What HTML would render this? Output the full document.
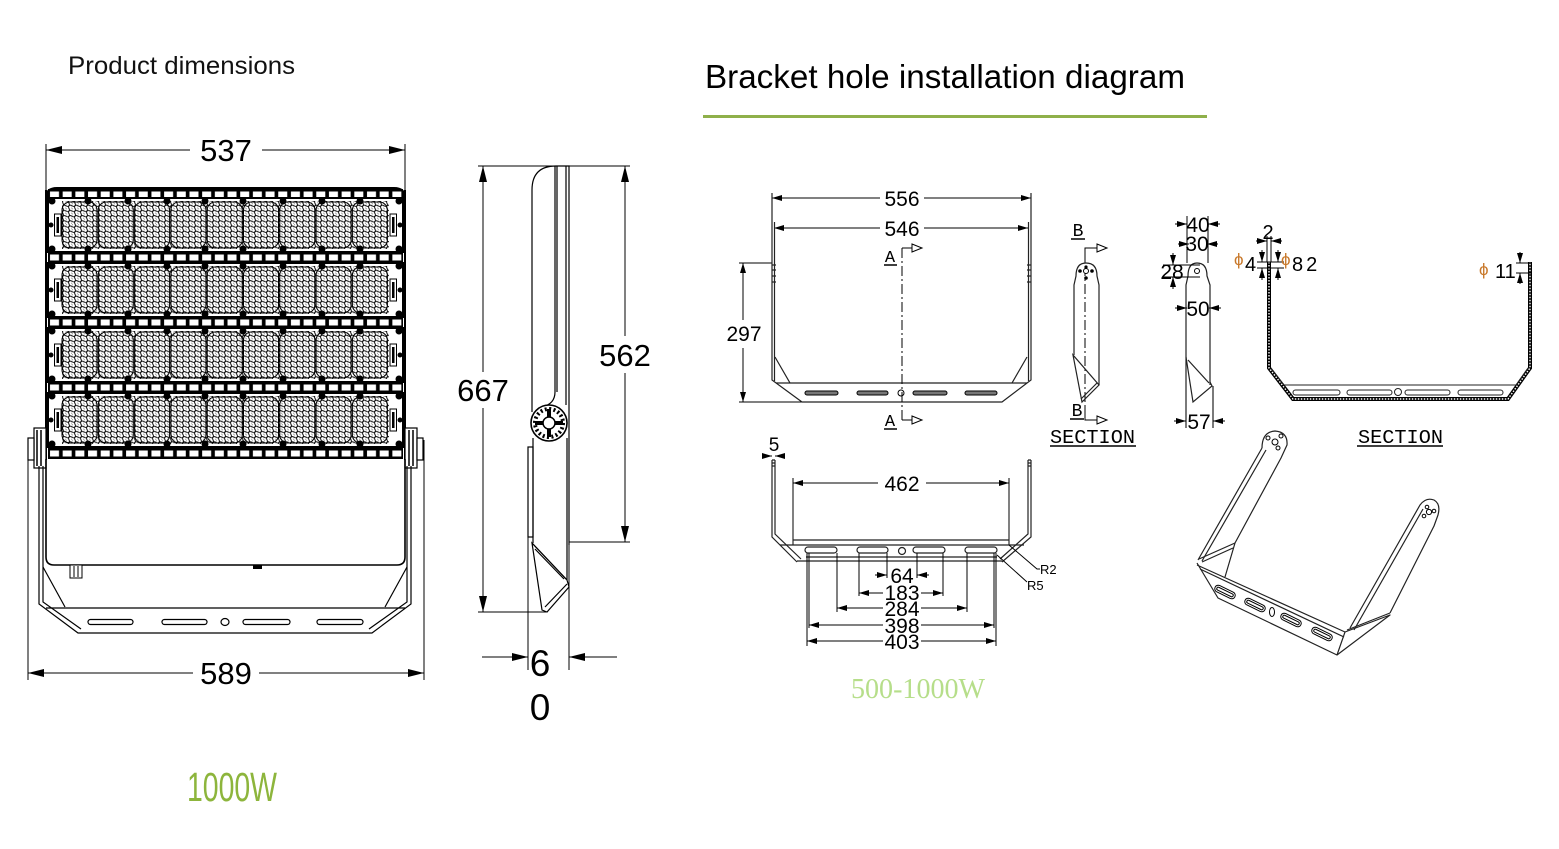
<!DOCTYPE html>
<html><head><meta charset="utf-8"><style>
html,body{margin:0;padding:0;background:#fff;}
svg{display:block;}
</style></head><body>
<svg width="1559" height="849" viewBox="0 0 1559 849" xmlns="http://www.w3.org/2000/svg" font-family="'Liberation Sans', Arial, sans-serif">
<defs>
<marker id="A" viewBox="0 0 16 8" refX="16" refY="4" markerWidth="16" markerHeight="8" markerUnits="userSpaceOnUse" orient="auto"><path d="M0,0L16,4L0,8z" fill="#000"/></marker>
<marker id="s" viewBox="0 0 10 6" refX="10" refY="3" markerWidth="10" markerHeight="6" markerUnits="userSpaceOnUse" orient="auto"><path d="M0,0L10,3L0,6z" fill="#000"/></marker>
<pattern id="hex" width="6" height="5.2" patternUnits="userSpaceOnUse"><rect width="6" height="5.2" fill="#fff"/><circle cx="1.5" cy="1.3" r="1.9" fill="none" stroke="#000" stroke-width=".9"/><circle cx="4.5" cy="3.9" r="1.9" fill="none" stroke="#000" stroke-width=".9"/></pattern>
<pattern id="grid" width="12.68" height="11" patternUnits="userSpaceOnUse"><rect width="12.68" height="11" fill="#000"/><rect x="2" y="2.5" width="9" height="6" fill="#fff"/></pattern>
<g id="mod">
<rect x="0" y="0" width="355" height="54" fill="#fff" stroke="#000" stroke-width="2"/>
<rect x="14" y="3" width="327" height="48" fill="url(#hex)"/>
<g fill="none" stroke="#000" stroke-width="1">
<rect x="14" y="4" width="35" height="46" rx="8"/><rect x="50.3" y="4" width="35" height="46" rx="8"/><rect x="86.6" y="4" width="35" height="46" rx="8"/><rect x="122.9" y="4" width="35" height="46" rx="8"/><rect x="159.2" y="4" width="35" height="46" rx="8"/><rect x="195.5" y="4" width="35" height="46" rx="8"/><rect x="231.8" y="4" width="35" height="46" rx="8"/><rect x="268.1" y="4" width="35" height="46" rx="8"/><rect x="304.4" y="4" width="35" height="46" rx="8"/>
</g>
<g fill="#000">
<circle cx="4" cy="3" r="3.5"/><circle cx="40" cy="3" r="3.5"/><circle cx="80" cy="3" r="3.5"/><circle cx="119" cy="3" r="3.5"/><circle cx="157" cy="3" r="3.5"/><circle cx="195" cy="3" r="3.5"/><circle cx="235" cy="3" r="3.5"/><circle cx="274" cy="3" r="3.5"/><circle cx="312" cy="3" r="3.5"/><circle cx="351" cy="3" r="3.5"/>
<circle cx="4" cy="51" r="3.5"/><circle cx="40" cy="51" r="3.5"/><circle cx="80" cy="51" r="3.5"/><circle cx="119" cy="51" r="3.5"/><circle cx="157" cy="51" r="3.5"/><circle cx="195" cy="51" r="3.5"/><circle cx="235" cy="51" r="3.5"/><circle cx="274" cy="51" r="3.5"/><circle cx="312" cy="51" r="3.5"/><circle cx="351" cy="51" r="3.5"/>
<circle cx="3" cy="27" r="2.5"/><circle cx="352" cy="27" r="2.5"/>
<rect x="8.5" y="19" width="2.5" height="16"/><rect x="344" y="19" width="2.5" height="16"/>
</g>
<rect x="6.5" y="16" width="6.5" height="22" fill="none" stroke="#000" stroke-width="1"/>
<rect x="342" y="16" width="6.5" height="22" fill="none" stroke="#000" stroke-width="1"/>
</g>
<g id="strip"><rect width="355" height="11" fill="url(#grid)"/></g>
</defs>

<!-- Titles -->
<text x="68" y="74" font-size="25" fill="#111" textLength="227" lengthAdjust="spacingAndGlyphs">Product dimensions</text>
<text x="705" y="88" font-size="33" fill="#000" textLength="480" lengthAdjust="spacingAndGlyphs">Bracket hole installation diagram</text>
<rect x="703" y="115" width="504" height="3" fill="#8fb04a"/>

<!-- ===== FRONT VIEW ===== -->
<g stroke="#000" stroke-width="1" fill="none">
<line x1="46" y1="144" x2="46" y2="190"/>
<line x1="405" y1="144" x2="405" y2="190"/>
<line x1="190" y1="150" x2="46" y2="150" marker-end="url(#A)"/>
<line x1="262" y1="150" x2="405" y2="150" marker-end="url(#A)"/>
<line x1="28" y1="450" x2="28" y2="680"/>
<line x1="424" y1="440" x2="424" y2="680"/>
<line x1="193" y1="673" x2="28" y2="673" marker-end="url(#A)"/>
<line x1="259" y1="673" x2="424" y2="673" marker-end="url(#A)"/>
</g>
<text x="226" y="161" font-size="31" text-anchor="middle">537</text>
<text x="226" y="684" font-size="31" text-anchor="middle">589</text>

<!-- top strip -->
<path d="M46,200 V198 Q46,188 57,188 H394 Q405,188 405,198 V200" fill="#000" stroke="#000" stroke-width="2"/>
<g transform="translate(48,189)"><rect width="355" height="9" fill="url(#grid)"/></g>
<use href="#mod" x="48" y="198"/>
<use href="#strip" x="48" y="252"/>
<use href="#mod" x="48" y="263"/>
<use href="#strip" x="48" y="317"/>
<use href="#mod" x="48" y="328"/>
<use href="#strip" x="48" y="382"/>
<use href="#mod" x="48" y="393"/>
<use href="#strip" x="48" y="448"/>
<g stroke="#000" stroke-width="2" fill="none">
<line x1="46" y1="190" x2="46" y2="460"/>
<line x1="405" y1="190" x2="405" y2="460"/>
</g>
<!-- hubs -->
<g stroke="#000" stroke-width="1.2" fill="#fff">
<rect x="34" y="428" width="12" height="40"/>
<rect x="28" y="438" width="6" height="22"/>
<rect x="405" y="428" width="12" height="40"/>
<rect x="417" y="438" width="6" height="22"/>
</g>
<g stroke="#000" stroke-width="1.5">
<line x1="37" y1="430" x2="37" y2="466"/><line x1="41" y1="430" x2="41" y2="466"/>
<line x1="409" y1="430" x2="409" y2="466"/><line x1="413" y1="430" x2="413" y2="466"/>
</g>
<!-- driver box -->
<path d="M46,459 V557 Q46,565 54,565 H397 Q405,565 405,557 V459" fill="none" stroke="#000" stroke-width="1.6"/>
<rect x="70" y="565" width="12" height="13" fill="#fff" stroke="#000" stroke-width="1"/>
<line x1="74" y1="566" x2="74" y2="577" stroke="#000"/><line x1="78" y1="566" x2="78" y2="577" stroke="#000"/>
<rect x="253" y="565" width="9" height="4" fill="#000"/>
<!-- bracket -->
<g stroke="#000" stroke-width="1.2" fill="none">
<path d="M39,466 V604 L78,633 H372 L411,604 V466"/>
<path d="M43,466 V602 L81,629"/>
<path d="M407,466 V602 L369,629"/>
<line x1="46" y1="608" x2="405" y2="608"/>
<line x1="43" y1="567" x2="65" y2="607"/>
<line x1="407" y1="567" x2="385" y2="607"/>
<rect x="88" y="619.5" width="45" height="5" rx="2.5"/>
<rect x="162" y="619.5" width="45" height="5" rx="2.5"/>
<rect x="243" y="619.5" width="47" height="5" rx="2.5"/>
<rect x="317" y="619.5" width="46" height="5" rx="2.5"/>
<ellipse cx="225" cy="622" rx="4" ry="3.5"/>
</g>

<!-- ===== SIDE VIEW ===== -->
<g stroke="#000" stroke-width="1" fill="none">
<line x1="478" y1="166" x2="630" y2="166"/>
<line x1="483" y1="372" x2="483" y2="166" marker-end="url(#A)"/>
<line x1="483" y1="408" x2="483" y2="612" marker-end="url(#A)"/>
<line x1="478" y1="612" x2="546" y2="612"/>
<line x1="625" y1="336" x2="625" y2="166" marker-end="url(#A)"/>
<line x1="625" y1="373" x2="625" y2="542" marker-end="url(#A)"/>
<line x1="569" y1="542" x2="630" y2="542"/>
<line x1="528" y1="447" x2="528" y2="670"/>
<line x1="569" y1="543" x2="569" y2="670"/>
<line x1="482" y1="657" x2="528" y2="657" marker-end="url(#A)"/>
<line x1="617" y1="657" x2="569" y2="657" marker-end="url(#A)"/>
</g>
<text x="483" y="401" font-size="31" text-anchor="middle">667</text>
<text x="625" y="366" font-size="31" text-anchor="middle">562</text>
<text x="540" y="676" font-size="37" text-anchor="middle">6</text>
<text x="540" y="720" font-size="37" text-anchor="middle">0</text>
<g stroke="#000" stroke-width="1.2" fill="none">
<path d="M532,412 V190 Q532,166 556,166 H569 V545"/>
<path d="M555,166 V392 Q555,404 542,407"/>
<line x1="557" y1="166" x2="557" y2="392"/>
<line x1="566" y1="166" x2="566" y2="405"/>
<line x1="533" y1="438" x2="533" y2="543"/>
<line x1="567" y1="438" x2="567" y2="580"/>
<rect x="528" y="447" width="5" height="90"/>
<path d="M532,543 L542,610 L547,612 L569,587 L567,580 Z"/>
<line x1="532" y1="543" x2="567" y2="580"/>
<line x1="535" y1="549" x2="564" y2="579"/>
<line x1="545" y1="607" x2="567" y2="584"/>
</g>
<circle cx="549" cy="423" r="18" fill="#fff" stroke="#000" stroke-width="1.6"/>
<circle cx="549" cy="423" r="14" fill="none" stroke="#000" stroke-width="4" stroke-dasharray="2 2.4"/>
<rect x="547" y="409" width="4" height="28" fill="#000"/>
<rect x="535" y="421" width="28" height="4" fill="#000"/>
<circle cx="549" cy="423" r="6" fill="#fff" stroke="#000" stroke-width="1.5"/>

<!-- ===== BRACKET TOP VIEW ===== -->
<g stroke="#000" stroke-width="1" fill="none">
<line x1="880" y1="198" x2="772" y2="198" marker-end="url(#s)"/>
<line x1="924" y1="198" x2="1031" y2="198" marker-end="url(#s)"/>
<line x1="880" y1="228" x2="774" y2="228" marker-end="url(#s)"/>
<line x1="924" y1="228" x2="1028" y2="228" marker-end="url(#s)"/>
<line x1="743" y1="320" x2="743" y2="263" marker-end="url(#s)"/>
<line x1="743" y1="348" x2="743" y2="402" marker-end="url(#s)"/>
<line x1="739" y1="263" x2="772" y2="263"/>
<line x1="739" y1="402" x2="802" y2="402"/>
</g>
<g stroke="#222" stroke-width="1.2" fill="none">
<path d="M772,193 V380 L802,402 H1002 L1031,380 V193"/>
<line x1="774.5" y1="222" x2="774.5" y2="381"/>
<line x1="1028.5" y1="222" x2="1028.5" y2="381"/>
<line x1="776" y1="383" x2="1027" y2="383"/>
<line x1="775" y1="357" x2="790" y2="383"/>
<line x1="1027" y1="357" x2="1012" y2="383"/>
<path d="M772,265h4M772,270h4M772,276h4M772,282h4M1027,265h4M1027,270h4M1027,276h4M1027,282h4"/>
</g>
<g stroke="#000" stroke-width="1" fill="#777">
<rect x="805" y="391" width="33" height="4" rx="2"/>
<rect x="857" y="391" width="31" height="4" rx="2"/>
<rect x="913" y="391" width="34" height="4" rx="2"/>
<rect x="965" y="391" width="32" height="4" rx="2"/>
</g>
<circle cx="901" cy="393" r="3" fill="#fff" stroke="#000"/>
<line x1="902" y1="248" x2="902" y2="420" stroke="#000" stroke-width="1" stroke-dasharray="10 3 2 3"/>
<g stroke="#000" stroke-width="1" fill="#fff">
<path d="M902,248 H912" fill="none"/><path d="M912,244 L922,248 L912,252 Z"/>
<path d="M902,420 H912" fill="none"/><path d="M912,416 L922,420 L912,424 Z"/>
</g>
<text x="890" y="262" font-size="17" text-anchor="middle" font-family="'Liberation Mono', monospace">A</text>
<line x1="884" y1="265" x2="897" y2="265" stroke="#000" stroke-width="1.5"/>
<text x="890" y="426" font-size="17" text-anchor="middle" font-family="'Liberation Mono', monospace">A</text>
<line x1="884" y1="429" x2="897" y2="429" stroke="#000" stroke-width="1.5"/>
<g font-size="21" text-anchor="middle">
<text x="902" y="206">556</text>
<text x="902" y="236">546</text>
<text x="744" y="341">297</text>
</g>

<!-- ===== BRACKET BOTTOM VIEW ===== -->
<text x="774" y="451" font-size="19" text-anchor="middle">5</text>
<g stroke="#000" stroke-width="1" fill="none">
<line x1="766" y1="456" x2="772" y2="456" marker-end="url(#s)"/>
<line x1="781" y1="456" x2="775" y2="456" marker-end="url(#s)"/>
<line x1="878" y1="483" x2="793" y2="483" marker-end="url(#s)"/>
<line x1="926" y1="483" x2="1009" y2="483" marker-end="url(#s)"/>
<line x1="793" y1="478" x2="793" y2="545"/>
<line x1="1009" y1="478" x2="1009" y2="545"/>
</g>
<g stroke="#222" stroke-width="1.2" fill="none">
<path d="M772,460 V537 L797,562"/>
<path d="M775,460 V534 L801,559"/>
<path d="M1031,460 V537 L1002,562"/>
<path d="M1028,460 V534 L1000,559"/>
<line x1="793" y1="540" x2="1009" y2="540"/>
<line x1="780" y1="545" x2="1024" y2="545"/>
<line x1="806" y1="557" x2="997" y2="557"/>
<line x1="797" y1="561" x2="1002" y2="561"/>
<rect x="805" y="547" width="32" height="6" rx="3" fill="#fff"/>
<rect x="857" y="547" width="31" height="6" rx="3" fill="#fff"/>
<rect x="913" y="547" width="32" height="6" rx="3" fill="#fff"/>
<rect x="965" y="547" width="32" height="6" rx="3" fill="#fff"/>
<circle cx="902" cy="551" r="3.5" fill="#fff"/>
<path d="M772,460h3M772,463h3M772,466h3M1028,460h3M1028,463h3M1028,466h3"/>
</g>
<g stroke="#000" stroke-width="1" fill="none">
<line x1="807" y1="553" x2="807" y2="646"/>
<line x1="996" y1="553" x2="996" y2="646"/>
<line x1="809" y1="553" x2="809" y2="628"/>
<line x1="994" y1="553" x2="994" y2="628"/>
<line x1="837" y1="553" x2="837" y2="612"/>
<line x1="967" y1="553" x2="967" y2="612"/>
<line x1="859" y1="553" x2="859" y2="596"/>
<line x1="943" y1="553" x2="943" y2="596"/>
<line x1="887" y1="553" x2="887" y2="578"/>
<line x1="917" y1="553" x2="917" y2="578"/>
<line x1="875" y1="575" x2="887" y2="575" marker-end="url(#s)"/>
<line x1="929" y1="575" x2="917" y2="575" marker-end="url(#s)"/>
<line x1="883" y1="593" x2="859" y2="593" marker-end="url(#s)"/>
<line x1="921" y1="593" x2="943" y2="593" marker-end="url(#s)"/>
<line x1="883" y1="608" x2="837" y2="608" marker-end="url(#s)"/>
<line x1="921" y1="608" x2="967" y2="608" marker-end="url(#s)"/>
<line x1="883" y1="625" x2="809" y2="625" marker-end="url(#s)"/>
<line x1="921" y1="625" x2="994" y2="625" marker-end="url(#s)"/>
<line x1="883" y1="641" x2="807" y2="641" marker-end="url(#s)"/>
<line x1="921" y1="641" x2="996" y2="641" marker-end="url(#s)"/>
<path d="M1009,545 L1037,569 H1040"/>
<path d="M997,555 L1027,582"/>
</g>
<g font-size="21" text-anchor="middle">
<text x="902" y="491">462</text>
<text x="902" y="583">64</text>
<text x="902" y="600">183</text>
<text x="902" y="616">284</text>
<text x="902" y="633">398</text>
<text x="902" y="649">403</text>
</g>
<text x="1040" y="574" font-size="13">R2</text>
<text x="1027" y="590" font-size="13">R5</text>
<text x="918" y="698" font-size="28" text-anchor="middle" font-family="'Liberation Serif', serif" fill="#b6de8a" textLength="134" lengthAdjust="spacingAndGlyphs">500-1000W</text>

<!-- ===== SECTION B ===== -->
<text x="1078" y="236" font-size="18" text-anchor="middle" font-family="'Liberation Mono', monospace">B</text>
<line x1="1071" y1="239" x2="1085" y2="239" stroke="#000" stroke-width="1.5"/>
<g stroke="#000" stroke-width="1" fill="#fff">
<path d="M1085,263 V248 H1097" fill="none"/><path d="M1097,244 L1107,248 L1097,252 Z"/>
<path d="M1085,405 V420 H1097" fill="none"/><path d="M1097,416 L1107,420 L1097,424 Z"/>
</g>
<line x1="1085" y1="248" x2="1085" y2="420" stroke="#000" stroke-width="1" stroke-dasharray="10 3 2 3"/>
<g stroke="#222" stroke-width="1.2" fill="none">
<path d="M1074,355 V285 L1076,276 Q1076,263 1086,263 Q1097,263 1097,276 L1099,285 V385"/>
<path d="M1073,355 L1082,402 L1099,385 Z"/>
<line x1="1081" y1="399" x2="1097" y2="383"/>
</g>
<g fill="#000"><circle cx="1080" cy="271" r="1.8"/><circle cx="1092" cy="271" r="1.8"/><circle cx="1086" cy="278" r="1.8"/><circle cx="1086" cy="267" r="1.6"/></g>
<circle cx="1086" cy="271" r="2.5" fill="#fff" stroke="#000"/>
<text x="1077" y="416" font-size="18" text-anchor="middle" font-family="'Liberation Mono', monospace">B</text>
<line x1="1070" y1="419" x2="1084" y2="419" stroke="#000" stroke-width="1.5"/>
<text x="1050" y="443" font-size="19" font-family="'Liberation Mono', monospace" textLength="85" lengthAdjust="spacingAndGlyphs">SECTION</text>
<line x1="1050" y1="446" x2="1136" y2="446" stroke="#000" stroke-width="1.5"/>

<!-- ===== SIDE BAR VIEW ===== -->
<g stroke="#222" stroke-width="1.2" fill="none">
<path d="M1186,428 V285 L1188,276 Q1188,263 1197,263 Q1207,263 1207,276 L1210,285 V385"/>
<path d="M1186,357 L1193,402 L1212,386 L1210,382"/>
<line x1="1213" y1="386" x2="1213" y2="428"/>
<line x1="1188" y1="360" x2="1209" y2="383"/>
</g>
<circle cx="1197" cy="271" r="2.5" fill="#fff" stroke="#000"/>
<g stroke="#000" stroke-width="1" fill="none">
<line x1="1187" y1="216" x2="1187" y2="263"/>
<line x1="1208" y1="216" x2="1208" y2="263"/>
<line x1="1175" y1="224" x2="1187" y2="224" marker-end="url(#s)"/>
<line x1="1220" y1="224" x2="1208" y2="224" marker-end="url(#s)"/>
<line x1="1178" y1="244" x2="1189" y2="244" marker-end="url(#s)"/>
<line x1="1218" y1="244" x2="1207" y2="244" marker-end="url(#s)"/>
<line x1="1163" y1="265" x2="1200" y2="265"/>
<line x1="1163" y1="277" x2="1200" y2="277"/>
<line x1="1173" y1="253" x2="1173" y2="265" marker-end="url(#s)"/>
<line x1="1173" y1="289" x2="1173" y2="277" marker-end="url(#s)"/>
<line x1="1175" y1="308" x2="1187" y2="308" marker-end="url(#s)"/>
<line x1="1221" y1="308" x2="1209" y2="308" marker-end="url(#s)"/>
<line x1="1174" y1="421" x2="1186" y2="421" marker-end="url(#s)"/>
<line x1="1225" y1="421" x2="1213" y2="421" marker-end="url(#s)"/>
</g>
<g font-size="21" text-anchor="middle">
<text x="1198" y="232">40</text>
<text x="1197" y="251">30</text>
<text x="1172" y="279">28</text>
<text x="1198" y="316">50</text>
<text x="1199" y="429">57</text>
</g>

<!-- ===== SECTION U ===== -->
<path d="M1269,262 V368 L1293,399 H1508 L1530,368 V262" fill="none" stroke="#000" stroke-width="4"/>
<path d="M1269,262 V368 L1293,399 H1508 L1530,368 V262" fill="none" stroke="#fff" stroke-width="1.4" stroke-dasharray="1.5 1.5"/>
<g stroke="#222" stroke-width="1" fill="none">
<path d="M1271,368 L1284,385 H1516 L1528,368"/>
<rect x="1293" y="390" width="47" height="5" rx="2.5"/>
<rect x="1347" y="390" width="45" height="5" rx="2.5"/>
<rect x="1405" y="390" width="45" height="5" rx="2.5"/>
<rect x="1458" y="390" width="45" height="5" rx="2.5"/>
<circle cx="1398" cy="392" r="3.5" fill="#fff"/>
</g>
<g stroke="#000" stroke-width="1" fill="none">
<line x1="1267" y1="236" x2="1267" y2="262"/>
<line x1="1271" y1="236" x2="1271" y2="262"/>
<line x1="1256" y1="241" x2="1267" y2="241" marker-end="url(#s)"/>
<line x1="1282" y1="241" x2="1271" y2="241" marker-end="url(#s)"/>
<line x1="1257" y1="262" x2="1284" y2="262"/>
<line x1="1257" y1="268" x2="1284" y2="268"/>
<line x1="1262" y1="250" x2="1262" y2="262" marker-end="url(#s)"/>
<line x1="1262" y1="280" x2="1262" y2="268" marker-end="url(#s)"/>
<line x1="1278" y1="250" x2="1278" y2="262" marker-end="url(#s)"/>
<line x1="1278" y1="280" x2="1278" y2="268" marker-end="url(#s)"/>
<line x1="1516" y1="263" x2="1531" y2="263"/>
<line x1="1516" y1="273" x2="1531" y2="273"/>
<line x1="1520" y1="252" x2="1520" y2="263" marker-end="url(#s)"/>
<line x1="1520" y1="284" x2="1520" y2="273" marker-end="url(#s)"/>
</g>
<text x="1268" y="239" font-size="20" text-anchor="middle">2</text>
<text x="1234" y="265" font-size="17" fill="#c8782a">ϕ</text>
<text x="1245" y="271" font-size="20">4</text>
<text x="1281" y="265" font-size="17" fill="#c8782a">ϕ</text>
<text x="1292" y="271" font-size="20" letter-spacing="3">82</text>
<text x="1479" y="275" font-size="17" fill="#c8782a">ϕ</text>
<text x="1495" y="278" font-size="20">11</text>
<text x="1358" y="443" font-size="19" font-family="'Liberation Mono', monospace" textLength="85" lengthAdjust="spacingAndGlyphs">SECTION</text>
<line x1="1357" y1="446" x2="1443" y2="446" stroke="#000" stroke-width="1.5"/>

<!-- ===== 3D BRACKET ===== -->
<g stroke="#222" stroke-width="1.2" fill="none" stroke-linejoin="round">
<path d="M1262,448 Q1262,432 1275,431 Q1288,432 1287,445 L1281,458 L1235,543 L1225,577"/>
<path d="M1262,448 L1198,560"/>
<path d="M1266,450 L1202,561"/>
<path d="M1235,543 L1199,559"/>
<path d="M1233,548 L1202,562"/>
<path d="M1197,563 L1218,598 L1337,655 L1345,632 L1197,565"/>
<path d="M1200,569 L1344,637"/>
<path d="M1337,655 L1390,615 L1345,632"/>
<path d="M1347,630 L1390,613"/>
<path d="M1350,628 L1420,505 Q1426,497 1434,500 Q1441,504 1438,515 L1434,526 L1390,613"/>
<path d="M1354,630 L1423,509"/>
</g>
<g fill="none" stroke="#000" stroke-width="1">
<circle cx="1268" cy="438" r="2"/><circle cx="1281" cy="436" r="2"/><circle cx="1278" cy="448" r="2"/><circle cx="1275" cy="442" r="3"/>
<circle cx="1427" cy="507" r="1.8"/><circle cx="1434" cy="511" r="1.8"/><circle cx="1424" cy="516" r="1.8"/><circle cx="1429" cy="512" r="2.6"/>
<g transform="translate(1225,592) rotate(26)"><rect x="-11" y="-3.5" width="22" height="7" rx="3.5"/><rect x="-9" y="-1.5" width="18" height="3" rx="1.5"/></g>
<g transform="translate(1255,605) rotate(26)"><rect x="-11" y="-3.5" width="22" height="7" rx="3.5"/><rect x="-9" y="-1.5" width="18" height="3" rx="1.5"/></g>
<g transform="translate(1291,620) rotate(26)"><rect x="-11" y="-3.5" width="22" height="7" rx="3.5"/><rect x="-9" y="-1.5" width="18" height="3" rx="1.5"/></g>
<g transform="translate(1322,634) rotate(26)"><rect x="-11" y="-3.5" width="22" height="7" rx="3.5"/><rect x="-9" y="-1.5" width="18" height="3" rx="1.5"/></g>
<ellipse cx="1272" cy="612" rx="2.5" ry="4.5"/>
</g>

<!-- 1000W label -->
<text x="187" y="801" font-size="41" fill="#8db53c" textLength="90" lengthAdjust="spacingAndGlyphs">1000W</text>
</svg>
</body></html>
